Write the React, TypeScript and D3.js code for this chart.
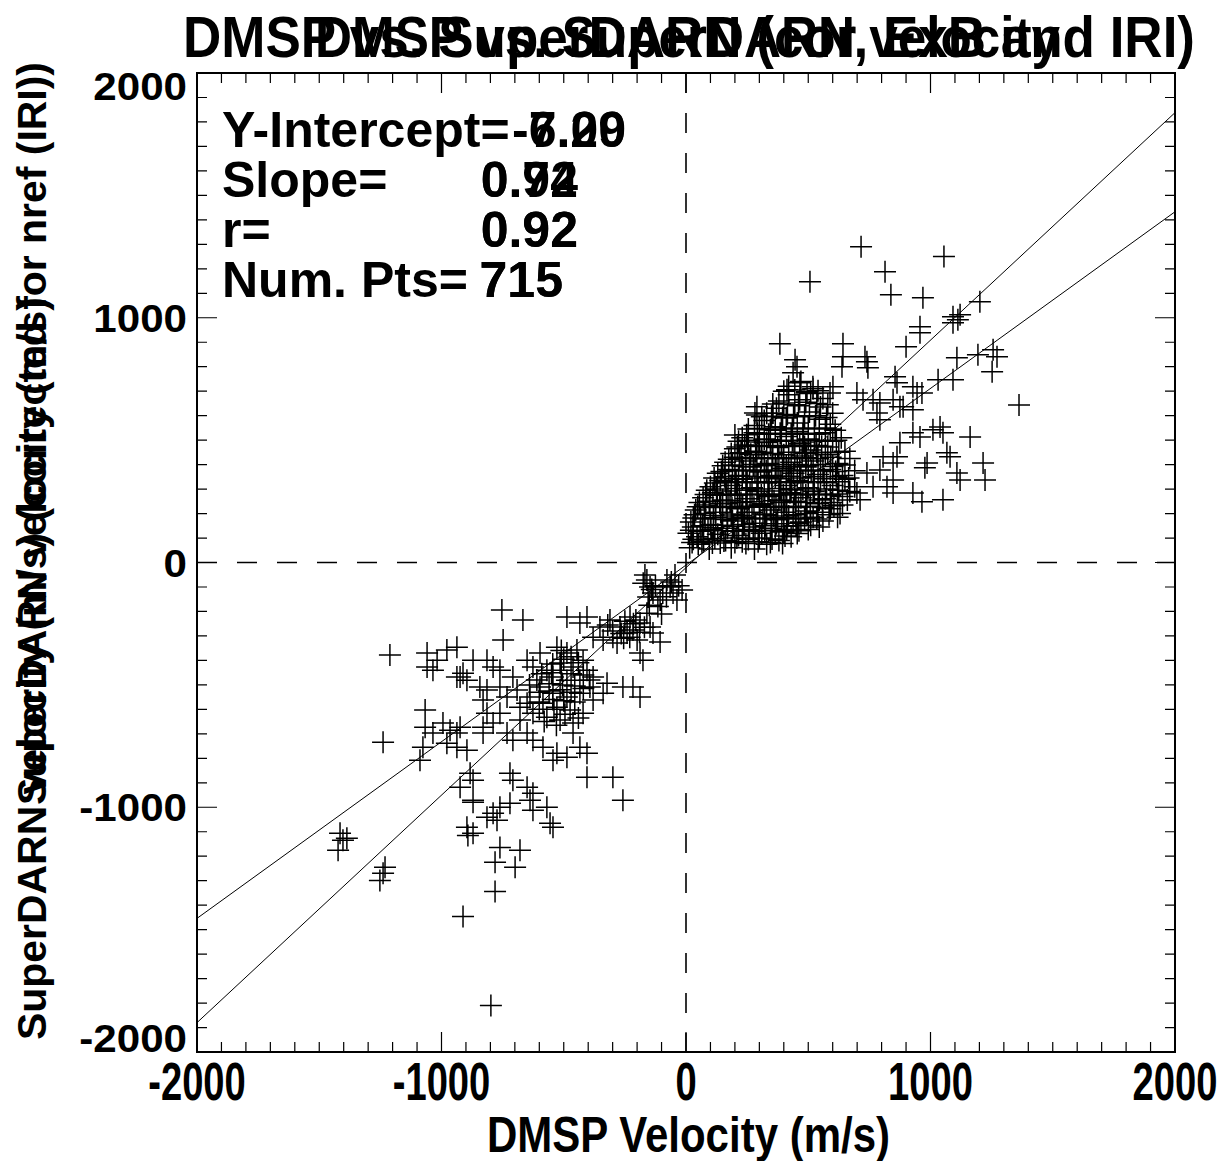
import React from "react";
import * as d3 from "d3";

// ---------- data (m/s) ----------
const titleMain = "DMSP vs. SuperDARN (cor, ExB and IRI)";
const titleOverlay = "DMSP vs. SuperDARN velocity";
const yLabelMain = "SuperDARN velocity (m/s) (corrected for nref (IRI))";
const yLabelOverlay = "SuperDARN velocity (m/s)";
const xLabel = "DMSP Velocity (m/s)";
const tickValues = [-2000, -1000, 0, 1000, 2000];
const statLabels = ["Y-Intercept=", "Slope=", "r=", "Num. Pts="];
const statValuesA = ["-7.00", "0.94", "0.92", "715"];
const statValuesB = ["6.29", "0.72", "0.92", "715"];
// fit lines: [x, y] end points
const fitLineA: [number, number][] = [[-2000, -1880], [2000, 1838]];
const fitLineB: [number, number][] = [[-2000, -1454], [2000, 1433]];

const negNearOrigin: [number, number][] = [
  [-160, -72], [-147, -100], [-135, -125], [-65, -100], [-53, -125], [-37, -153], [-78, -72], [-155, -141],
  [-229, -223], [-188, -247], [-147, -264], [-160, -207], [-217, -276], [-135, -288], [-311, -235], [-270, -264],
  [-352, -264], [-299, -305], [-241, -288], [-200, -317], [-282, -329], [-106, -325], [-487, -223], [-434, -247],
  [-405, -223], [-380, -305], [-339, -317], [-176, -399], [-188, -370], [-217, -509], [-188, -550], [-45, -51],
  [-16, -112], [-106, -153], [-168, -51],
  [-250, -240], [-215, -250], [-265, -290], [-230, -305], [-190, -285], [-170, -265], [-300, -280], [-320, -255],
  [-255, -310], [-205, -235], [-125, -95], [-95, -125], [-140, -110], [-80, -140], [-175, -85], [-60, -80],
  [-30, -95], [-115, -180], [-150, -175], [-100, -210],
];
const negCluster: [number, number][] = [
  [-528, -346], [-487, -370], [-446, -358], [-421, -399], [-515, -411], [-462, -427], [-405, -440], [-569, -440],
  [-626, -427], [-544, -468], [-487, -481], [-434, -481], [-380, -468], [-597, -509], [-544, -534], [-487, -550],
  [-434, -534], [-393, -509], [-691, -521], [-638, -550], [-585, -575], [-528, -591], [-474, -603], [-421, -616],
  [-626, -616], [-569, -632], [-515, -644], [-462, -656], [-679, -591], [-732, -550], [-761, -509], [-708, -468],
  [-650, -399], [-597, -370], [-761, -440], [-339, -534], [-323, -493], [-380, -562],
  [-510, -360], [-470, -385], [-440, -410], [-500, -395], [-545, -415], [-590, -455], [-550, -450], [-510, -440],
  [-470, -455], [-420, -460], [-395, -480], [-455, -505], [-505, -500], [-560, -495], [-610, -480], [-640, -500],
  [-600, -530], [-560, -525], [-515, -520], [-470, -530], [-420, -515], [-455, -570], [-500, -565], [-545, -560],
  [-600, -570], [-650, -575], [-540, -600], [-495, -620], [-440, -635], [-600, -600], [-580, -650], [-530, -665],
];
const negSpread: [number, number][] = [
  [-814, -399], [-789, -427], [-871, -399], [-912, -452], [-937, -468], [-896, -481], [-843, -509], [-814, -521],
  [-830, -562], [-679, -644], [-650, -697], [-626, -726], [-585, -755], [-528, -779], [-487, -796], [-544, -808],
  [-462, -697], [-434, -755], [-405, -779], [-732, -697], [-708, -726], [-789, -656], [-761, -616], [-814, -616],
  [-830, -697], [-830, -673], [-937, -697], [-924, -673], [-937, -755], [-896, -767], [-994, -656], [-965, -685],
  [-1059, -370], [-1018, -399], [-978, -358], [-937, -346], [-1035, -440], [-1059, -427], [-924, -468], [-1211, -378],
  [-748, -317], [-753, -194], [-667, -235], [-258, -509], [-405, -877], [-299, -877], [-258, -971], [-1067, -603],
  [-1067, -673], [-1035, -697], [-1076, -755], [-1088, -808], [-978, -738], [-1239, -734],
];
const negTail: [number, number][] = [
  [-883, -861], [-871, -890], [-924, -918], [-871, -971], [-814, -1041], [-773, -1053], [-789, -1025], [-720, -861],
  [-708, -890], [-650, -918], [-638, -971], [-626, -943], [-569, -1000], [-556, -1065], [-544, -1082], [-896, -1082],
  [-871, -1106], [-761, -1164], [-679, -1176], [-1415, -1106], [-1403, -1135], [-1423, -1176], [-1387, -1127],
  [-1231, -1245], [-1239, -1270], [-1252, -1299], [-892, -1115], [-871, -980], [-761, -1000], [-720, -984],
  [-626, -1012], [-781, -1225], [-699, -1245], [-781, -1344], [-912, -1446], [-798, -1810],
];
const posOutliers: [number, number][] = [
  [716, 1290], [1055, 1250], [507, 1147], [814, 1188], [838, 1094], [969, 1082], [1202, 1065], [1092, 1004],
  [1112, 992], [1121, 1012], [1092, 980], [957, 963], [957, 939], [900, 882], [384, 894], [642, 894],
  [642, 841], [638, 800], [446, 828], [454, 800], [438, 775], [740, 820], [744, 796], [732, 841],
  [1108, 837], [1194, 849], [1256, 869], [1272, 841], [1252, 779], [1031, 747], [1092, 747], [855, 759],
  [863, 734], [928, 718], [945, 693], [965, 693], [1362, 644], [282, 611], [356, 611], [466, 734],
  [495, 693], [519, 718], [601, 718], [589, 693], [699, 693], [724, 665], [765, 665], [793, 652],
  [875, 636], [290, 636], [290, 603], [200, 521], [413, 706], [1162, 513], [1215, 407], [1223, 337],
  [1051, 256], [965, 248], [928, 284], [847, 284], [1010, 542], [1039, 554], [1051, 530], [1067, 448],
  [1080, 432], [986, 407], [977, 387], [1108, 366], [1121, 337], [957, 513], [928, 530], [875, 489],
  [863, 432], [806, 432], [793, 378], [847, 407], [847, 337], [822, 309], [740, 366], [765, 309],
  [699, 284], [712, 256], [847, 665], [888, 636], [928, 624], [781, 611], [793, 583],
];
const posBlob: [number, number][] = [
  [15, 60], [50, 75], [95, 55], [140, 80], [185, 60], [230, 85], [280, 55], [330, 75], [380, 90], [430, 105],
  [10, 120], [45, 105], [90, 130], [130, 115], [170, 140], [215, 110], [260, 135], [310, 120], [350, 140], [400, 125], [450, 150], [500, 135],
  [20, 165], [60, 180], [100, 155], [150, 190], [190, 170], [240, 185], [285, 160], [330, 195], [375, 175], [420, 190], [470, 165], [520, 185], [560, 170],
  [40, 215], [80, 235], [120, 205], [165, 240], [210, 220], [250, 205], [300, 235], [345, 215], [390, 245], [440, 225], [490, 210], [540, 240], [590, 220], [630, 200],
  [70, 265], [110, 285], [150, 255], [200, 275], [245, 260], [290, 290], [335, 270], [380, 255], [425, 285], [470, 265], [520, 290], [570, 260], [620, 280], [660, 255],
  [100, 310], [140, 335], [185, 315], [230, 340], [270, 305], [320, 325], [365, 345], [410, 315], [455, 335], [500, 305], [550, 330], [600, 315], [650, 340], [690, 310],
  [130, 365], [175, 380], [215, 355], [260, 390], [305, 370], [350, 355], [395, 385], [440, 365], [490, 390], [540, 360], [590, 380], [640, 355], [690, 375],
  [160, 410], [200, 430], [245, 415], [290, 440], [335, 405], [380, 425], [430, 410], [475, 435], [520, 415], [570, 440], [620, 405], [670, 425],
  [200, 465], [240, 480], [285, 455], [330, 490], [375, 470], [420, 450], [465, 485], [510, 460], [555, 475], [600, 495], [650, 455],
  [230, 510], [280, 530], [320, 505], [365, 540], [410, 515], [455, 535], [500, 505], [545, 525], [590, 545], [635, 510],
  [280, 560], [320, 580], [365, 555], [410, 590], [455, 570], [500, 550], [545, 585], [590, 565],
  [330, 610], [370, 630], [415, 605], [460, 640], [505, 615], [550, 635], [600, 610],
  [380, 660], [420, 685], [465, 665], [510, 690], [560, 670],
  [420, 720], [470, 740], [520, 710],
];
const posBlobB: [number, number][] = [
  [30, 95], [72, 92], [118, 98], [162, 90], [208, 100], [255, 94], [300, 100], [352, 96], [405, 108], [455, 118],
  [28, 145], [68, 150], [112, 142], [150, 152], [195, 148], [238, 155], [282, 145], [325, 150], [370, 158], [415, 148], [460, 160], [510, 152], [545, 145],
  [35, 195], [75, 200], [112, 192], [142, 205], [185, 198], [228, 192], [270, 205], [315, 198], [358, 190], [400, 205], [448, 195], [495, 200], [540, 205], [585, 195], [620, 185],
  [55, 245], [95, 250], [138, 242], [180, 252], [225, 245], [270, 248], [315, 240], [360, 252], [405, 245], [450, 250], [495, 245], [545, 255], [595, 245], [640, 235],
  [85, 295], [125, 300], [165, 292], [210, 302], [250, 295], [295, 300], [340, 292], [385, 302], [430, 296], [478, 300], [525, 292], [575, 300], [625, 295], [670, 290],
  [115, 345], [158, 350], [200, 342], [245, 352], [290, 345], [335, 350], [380, 342], [425, 352], [470, 345], [520, 350], [565, 342], [615, 350], [665, 345],
  [150, 395], [190, 398], [230, 392], [275, 400], [320, 395], [365, 400], [410, 392], [455, 400], [500, 395], [550, 400], [600, 392], [650, 398],
  [185, 445], [225, 448], [265, 442], [310, 450], [355, 445], [400, 440], [445, 450], [490, 445], [535, 450], [580, 442], [625, 450],
  [215, 495], [255, 500], [300, 492], [345, 502], [390, 495], [435, 500], [480, 492], [525, 500], [570, 495], [615, 500],
  [255, 545], [300, 548], [345, 542], [390, 550], [435, 545], [480, 550], [525, 545], [570, 550], [610, 540],
  [310, 595], [350, 598], [395, 592], [440, 600], [485, 595], [530, 600], [575, 592],
  [355, 648], [400, 652], [445, 645], [490, 655], [535, 650], [580, 645],
  [400, 700], [445, 705], [495, 698], [540, 702],
];
const posBlobC: [number, number][] = [
  [25, 82], [65, 85], [108, 80], [155, 88], [200, 82], [245, 78], [295, 85], [345, 82], [395, 78],
  [20, 132], [58, 128], [102, 135], [145, 130], [190, 128], [232, 132], [275, 128], [322, 132], [365, 130], [412, 135], [462, 130],
  [30, 182], [78, 178], [122, 183], [168, 176], [212, 182], [258, 178], [302, 182], [348, 178], [392, 183], [438, 178], [485, 182], [535, 178],
  [48, 228], [98, 225], [142, 230], [188, 225], [232, 230], [278, 226], [322, 230], [368, 225], [412, 230], [460, 226], [508, 230], [558, 225], [605, 232],
  [80, 278], [128, 275], [172, 280], [218, 276], [262, 280], [308, 276], [352, 280], [398, 276], [445, 280], [490, 276], [540, 280], [590, 276], [640, 270],
  [118, 325], [162, 330], [205, 326], [250, 330], [295, 326], [340, 330], [388, 326], [432, 330], [478, 326], [525, 330], [575, 326], [625, 330],
  [145, 372], [190, 378], [235, 374], [282, 378], [328, 374], [372, 378], [418, 374], [465, 378], [512, 374], [560, 378], [612, 372],
  [175, 422], [218, 428], [262, 424], [308, 428], [352, 424], [398, 428], [445, 424], [492, 428], [540, 424], [592, 430],
  [210, 472], [252, 478], [298, 474], [345, 478], [390, 474], [438, 478], [485, 474], [532, 478], [580, 472],
  [248, 522], [292, 528], [338, 524], [385, 528], [430, 524], [478, 528], [525, 524], [570, 530],
];

// ---------- layout ----------
const W = 1226;
const H = 1161;
const L = 197, R = 1175, T = 73, B = 1052;
const FONT = "'Liberation Sans', Arial, Helvetica, sans-serif";

export default function App() {
  const x = d3.scaleLinear().domain([-2000, 2000]).range([L, R]);
  const y = d3.scaleLinear().domain([-2000, 2000]).range([B, T]);
  const minor = d3.range(-2000, 2001, 100);
  const allPts = [
    ...negNearOrigin, ...negCluster, ...negSpread, ...negTail,
    ...posBlob, ...posBlobB, ...posBlobC, ...posOutliers,
  ];
  const arm = 11;
  const crossPath = allPts
    .map(([vx, vy]) => {
      const px = x(vx), py = y(vy);
      return `M${px - arm},${py}h${2 * arm}M${px},${py - arm}v${2 * arm}`;
    })
    .join("");
  const line = d3.line<[number, number]>().x((d) => x(d[0])).y((d) => y(d[1]));

  const tickPaths: string[] = [];
  minor.forEach((v) => {
    const len = v % 1000 === 0 ? 20 : 10;
    const px = x(v), py = y(v);
    tickPaths.push(`M${px},${B}v${-len}M${px},${T}v${len}`);
    tickPaths.push(`M${L},${py}h${len}M${R},${py}h${-len}`);
  });

  const yLabelDy = (v: number) => (v === 2000 ? 27 : v === -2000 ? 0 : 14);
  const baselines = [147, 197, 247, 297];

  return (
    <svg width={W} height={H} style={{ position: "absolute", left: 0, top: 0, background: "#fff" }} fontFamily={FONT}>
      <rect x={0} y={0} width={W} height={H} fill="#fff" />
      {/* zero lines */}
      <line x1={L} x2={R} y1={y(0)} y2={y(0)} stroke="#000" strokeWidth={1.6} strokeDasharray="20,20" />
      <line x1={x(0)} x2={x(0)} y1={T} y2={B} stroke="#000" strokeWidth={1.6} strokeDasharray="20,20" />
      {/* fits */}
      <path d={line(fitLineA) || ""} stroke="#000" strokeWidth={1} fill="none" />
      <path d={line(fitLineB) || ""} stroke="#000" strokeWidth={1} fill="none" />
      {/* points */}
      <path d={crossPath} stroke="#000" strokeWidth={1.5} fill="none" />
      {/* axes box and ticks */}
      <rect x={L} y={T} width={R - L} height={B - T} fill="none" stroke="#000" strokeWidth={2} />
      <path d={tickPaths.join("")} stroke="#000" strokeWidth={1.2} fill="none" />
      {/* x tick labels */}
      {tickValues.map((v) => (
        <g key={"xt" + v} transform={`translate(${x(v)},1100) scale(0.72,1)`}>
          <text textAnchor="middle" fontSize={53} fontWeight="bold">{v}</text>
        </g>
      ))}
      {/* y tick labels */}
      {tickValues.map((v) => (
        <g key={"yt" + v} transform={`translate(187,${y(v) + yLabelDy(v)}) scale(1.08,1)`}>
          <text textAnchor="end" fontSize={39} fontWeight="bold">{v}</text>
        </g>
      ))}
      {/* axis titles */}
      <text x={487} y={1152} fontSize={50} fontWeight="bold" textLength={403} lengthAdjust="spacingAndGlyphs">{xLabel}</text>
      <g transform="translate(46,1040) rotate(-90)">
        <text x={0} y={0} fontSize={41} fontWeight="bold" textLength={978} lengthAdjust="spacingAndGlyphs">{yLabelMain}</text>
      </g>
      <g transform="translate(46,551) rotate(-90)">
        <text x={0} y={0} fontSize={41} fontWeight="bold" textAnchor="middle">{yLabelOverlay}</text>
      </g>
      {/* titles */}
      <text x={183} y={57} fontSize={58} fontWeight="bold" textLength={1012} lengthAdjust="spacingAndGlyphs">{titleMain}</text>
      <text x={315} y={57} fontSize={58} fontWeight="bold" textLength={745} lengthAdjust="spacingAndGlyphs">{titleOverlay}</text>
      {/* stats */}
      {statLabels.map((s, i) => (
        <text key={"sl" + i} x={222} y={baselines[i]} fontSize={50} fontWeight="bold">{s}</text>
      ))}
      {[statValuesA, statValuesB].map((vals, k) =>
        vals.map((s, i) => (
          <text key={`sv${k}-${i}`} x={[626, 578, 578, 563][i]} y={baselines[i]} fontSize={50} fontWeight="bold" textAnchor="end">{s}</text>
        ))
      )}
    </svg>
  );
}
